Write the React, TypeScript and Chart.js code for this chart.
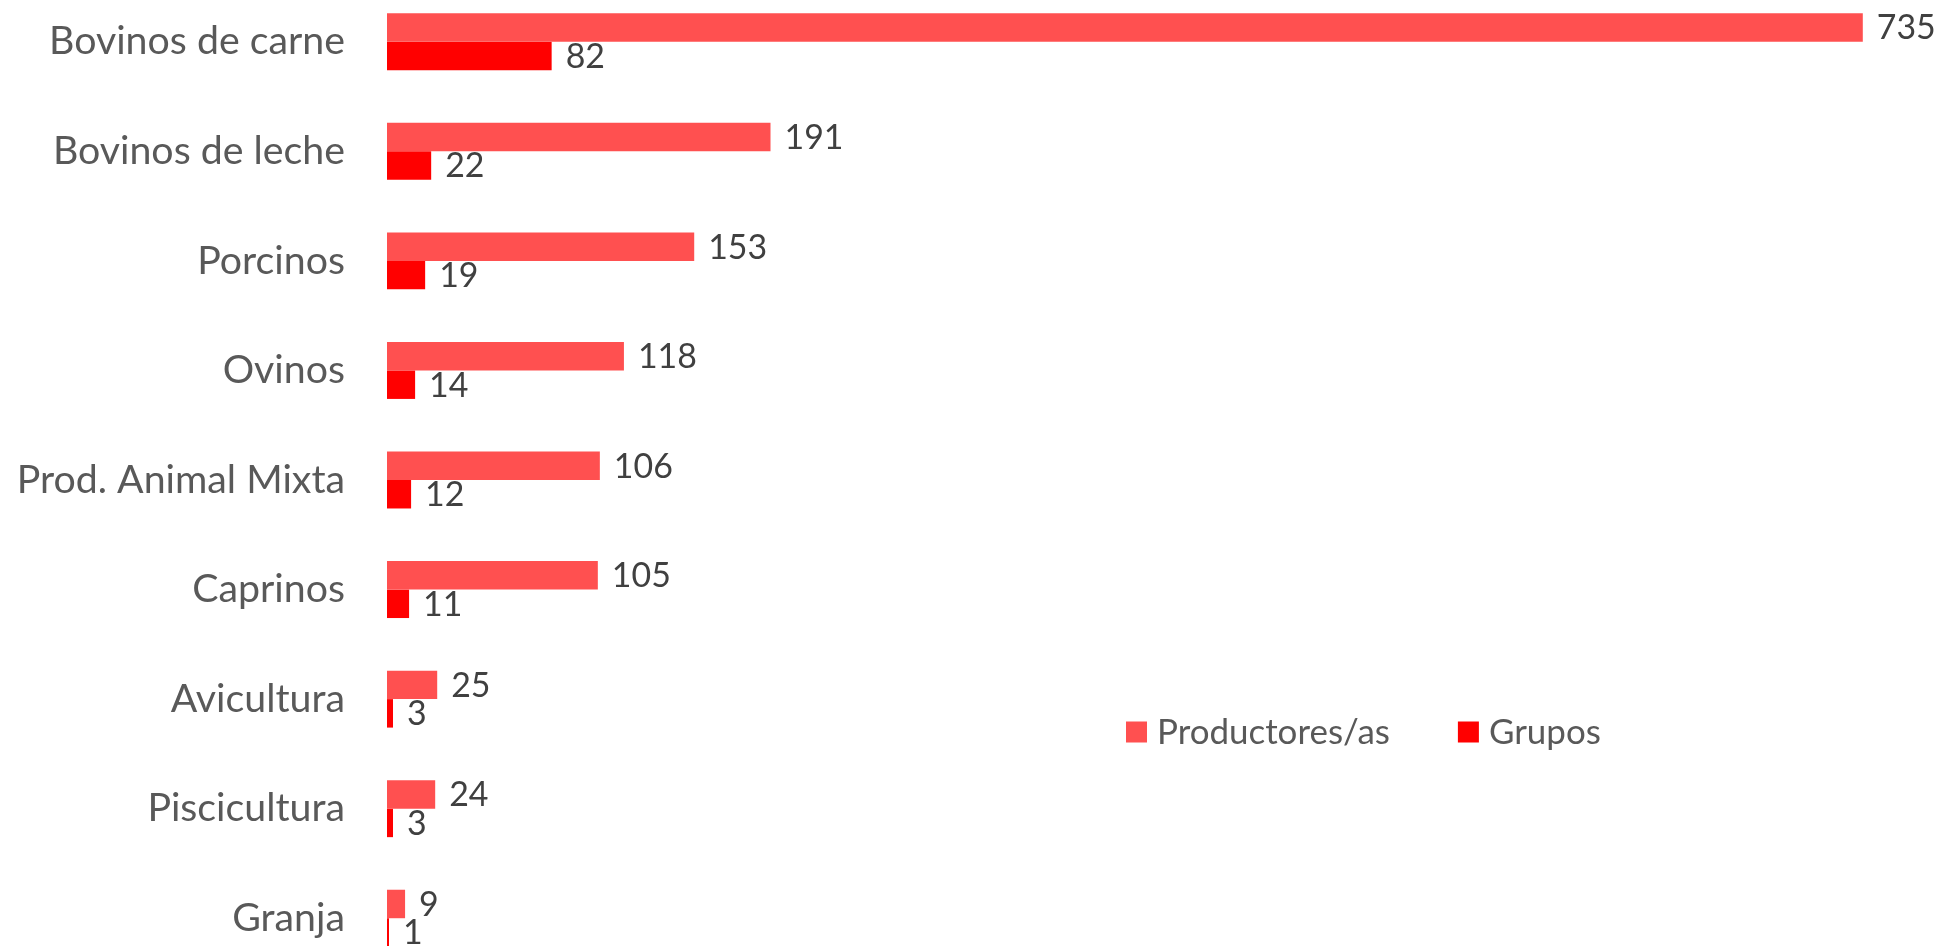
import React, { useEffect, useRef } from "react";
import { Chart, registerables } from "chart.js";

Chart.register(...registerables);

const categories = [
  "Bovinos de carne",
  "Bovinos de leche",
  "Porcinos",
  "Ovinos",
  "Prod. Animal Mixta",
  "Caprinos",
  "Avicultura",
  "Piscicultura",
  "Granja",
];
const productores = [735, 191, 153, 118, 106, 105, 25, 24, 9];
const grupos = [82, 22, 19, 14, 12, 11, 3, 3, 1];
const seriesNames = ["Productores/as", "Grupos"];
const seriesColors = ["#FF5050", "#FF0000"];

const FAMILY = "Lato, 'Open Sans', sans-serif";
const W = 1944;
const H = 986;

function fitSize(text: string, target: number): number {
  const c = document.createElement("canvas").getContext("2d")!;
  c.font = `100px ${FAMILY}`;
  const w = c.measureText(text).width;
  return (100 * target) / w;
}

export default function App() {
  const ref = useRef<HTMLCanvasElement | null>(null);

  useEffect(() => {
    if (!ref.current) return;
    const catSize = fitSize("Bovinos de carne", 296);
    const legSize = fitSize("Productores/as", 233);
    const dataSize = legSize * 0.97;

    const labelPlugin = {
      id: "valueLabels",
      afterDatasetsDraw(chart: any) {
        const ctx = chart.ctx;
        ctx.save();
        ctx.font = `${dataSize}px ${FAMILY}`;
        ctx.fillStyle = "#404040";
        ctx.textAlign = "left";
        ctx.textBaseline = "middle";
        chart.data.datasets.forEach((ds: any, di: number) => {
          const meta = chart.getDatasetMeta(di);
          meta.data.forEach((el: any, i: number) => {
            ctx.fillText(String(ds.data[i]), el.x + 14, el.y + 1);
          });
        });
        ctx.restore();
      },
    };

    const legendPlugin = {
      id: "customLegend",
      afterDraw(chart: any) {
        const ctx = chart.ctx;
        ctx.save();
        ctx.font = `${legSize}px ${FAMILY}`;
        ctx.textBaseline = "middle";
        ctx.textAlign = "left";
        const cy = 745;
        let x = 1126;
        seriesNames.forEach((name, i) => {
          ctx.fillStyle = seriesColors[i];
          ctx.fillRect(x, cy - 10.5, 21, 21);
          ctx.fillStyle = "#595959";
          ctx.fillText(name, x + 31, cy + 1);
          x = x + 31 + ctx.measureText(name).width + 68;
        });
        ctx.restore();
      },
    };

    const chart = new Chart(ref.current, {
      type: "bar",
      data: {
        labels: categories,
        datasets: [
          {
            label: seriesNames[0],
            data: productores,
            backgroundColor: seriesColors[0],
            categoryPercentage: 0.52,
            barPercentage: 1.0,
          },
          {
            label: seriesNames[1],
            data: grupos,
            backgroundColor: seriesColors[1],
            categoryPercentage: 0.52,
            barPercentage: 1.0,
          },
        ],
      },
      options: {
        indexAxis: "y",
        animation: false,
        responsive: false,
        devicePixelRatio: 1,
        layout: { padding: { left: 0, right: 31, top: 0, bottom: 0 } },
        plugins: {
          legend: { display: false },
          tooltip: { enabled: false },
        },
        scales: {
          x: {
            display: false,
            min: 0,
            max: 760,
          },
          y: {
            grid: { display: false, drawTicks: false },
            border: { display: false },
            ticks: {
              color: "#595959",
              padding: 42,
              font: { family: FAMILY, size: catSize },
            },
            afterFit(scale: any) {
              scale.width = 387;
              scale.paddingTop = 0;
              scale.paddingBottom = 0;
            },
          },
        },
      },
      plugins: [labelPlugin, legendPlugin],
    } as any);

    return () => chart.destroy();
  }, []);

  return (
    <div
      style={{
        position: "fixed",
        left: 0,
        top: -13,
        width: W,
        height: H,
        background: "#fff",
      }}
    >
      <canvas ref={ref} width={W} height={H} style={{ width: W, height: H, display: "block" }} />
    </div>
  );
}
